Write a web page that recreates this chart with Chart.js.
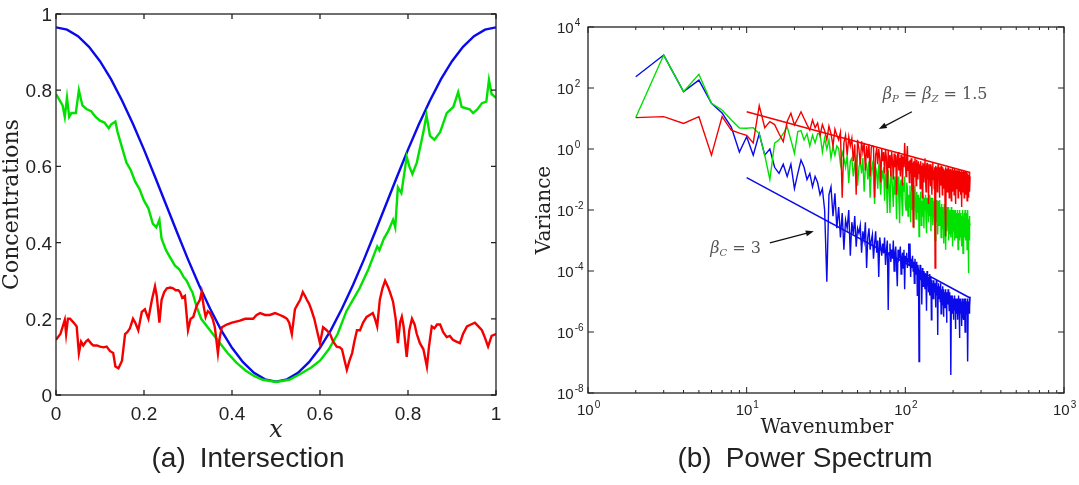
<!DOCTYPE html>
<html>
<head>
<meta charset="utf-8">
<script src="https://cdn.jsdelivr.net/npm/chart.js@4.4.0/dist/chart.umd.min.js"></script>
<style>
  body { margin: 0; background: #fff; }
  #wrap { position: relative; width: 1079px; height: 485px; }
  canvas { position: absolute; top: 0; }
</style>
</head>
<body>
<div id="wrap">
  <canvas id="intersection" width="530" height="485" style="left:0"></canvas>
  <canvas id="spectrum" width="549" height="485" style="left:530px"></canvas>
</div>
<script>
// ---- (a) Intersection: concentration profiles along x ----
const blueX = [0, 0.025, 0.05, 0.075, 0.1, 0.125, 0.15, 0.175, 0.2, 0.225, 0.25, 0.275, 0.3, 0.325, 0.35, 0.375, 0.4, 0.425, 0.45, 0.475, 0.5,
  0.525, 0.55, 0.575, 0.6, 0.625, 0.65, 0.675, 0.7, 0.725, 0.75, 0.775, 0.8, 0.825, 0.85, 0.875, 0.9, 0.925, 0.95, 0.975, 1];
const blueY = [0.965, 0.959, 0.942, 0.914, 0.876, 0.829, 0.773, 0.711, 0.644, 0.573, 0.5, 0.427, 0.356, 0.289, 0.227, 0.171, 0.124, 0.086, 0.058, 0.041, 0.035,
  0.041, 0.058, 0.086, 0.124, 0.171, 0.227, 0.289, 0.356, 0.427, 0.5, 0.573, 0.644, 0.711, 0.773, 0.829, 0.876, 0.914, 0.942, 0.959, 0.965];

const greenX = [0, 0.01, 0.015, 0.02, 0.025, 0.03, 0.035, 0.045, 0.052, 0.06, 0.07, 0.08, 0.09, 0.1, 0.11, 0.12, 0.125, 0.135, 0.14, 0.15,
  0.16, 0.17, 0.18, 0.19, 0.2, 0.21, 0.22, 0.228, 0.235, 0.24, 0.25, 0.26, 0.27, 0.28, 0.29, 0.297, 0.305, 0.31, 0.32, 0.33,
  0.35, 0.37, 0.39, 0.41, 0.43, 0.45, 0.47, 0.5, 0.53, 0.555, 0.58, 0.6, 0.62, 0.64, 0.66, 0.68, 0.69, 0.71, 0.73, 0.735,
  0.745, 0.755, 0.766, 0.771, 0.777, 0.785, 0.797, 0.803, 0.81, 0.82, 0.835, 0.842, 0.85, 0.86, 0.873, 0.888, 0.903, 0.914, 0.922, 0.94,
  0.948, 0.958, 0.968, 0.978, 0.984, 0.99, 1];
const greenY = [0.79, 0.77, 0.76, 0.73, 0.78, 0.73, 0.74, 0.74, 0.80, 0.76, 0.75, 0.745, 0.73, 0.72, 0.715, 0.70, 0.71, 0.718, 0.69, 0.65,
  0.61, 0.59, 0.56, 0.54, 0.51, 0.49, 0.45, 0.44, 0.46, 0.41, 0.38, 0.36, 0.34, 0.33, 0.31, 0.30, 0.28, 0.27, 0.23, 0.20,
  0.17, 0.14, 0.11, 0.085, 0.065, 0.05, 0.04, 0.034, 0.04, 0.055, 0.072, 0.09, 0.12, 0.16, 0.22, 0.26, 0.28, 0.33, 0.39, 0.38,
  0.41, 0.43, 0.46, 0.44, 0.545, 0.53, 0.625, 0.60, 0.58, 0.61, 0.69, 0.735, 0.68, 0.67, 0.69, 0.74, 0.756, 0.795, 0.756, 0.75,
  0.74, 0.75, 0.766, 0.77, 0.827, 0.79, 0.78];

const redX = [0, 0.01, 0.02, 0.023, 0.027, 0.032, 0.04, 0.047, 0.052, 0.057, 0.062, 0.068, 0.073, 0.08, 0.085, 0.093, 0.1, 0.108, 0.115, 0.123,
  0.13, 0.135, 0.142, 0.15, 0.157, 0.162, 0.168, 0.175, 0.18, 0.187, 0.195, 0.202, 0.21, 0.218, 0.225, 0.229, 0.235, 0.24, 0.246, 0.252,
  0.26, 0.266, 0.272, 0.278, 0.282, 0.287, 0.293, 0.3, 0.306, 0.312, 0.32, 0.327, 0.331, 0.336, 0.34, 0.345, 0.35, 0.356, 0.361, 0.368,
  0.372, 0.377, 0.388, 0.4, 0.418, 0.43, 0.448, 0.456, 0.464, 0.475, 0.486, 0.498, 0.509, 0.518, 0.525, 0.53, 0.536, 0.543, 0.55, 0.555,
  0.561, 0.566, 0.57, 0.575, 0.58, 0.587, 0.593, 0.6, 0.607, 0.615, 0.623, 0.63, 0.638, 0.645, 0.65, 0.656, 0.661, 0.667, 0.673, 0.678,
  0.684, 0.691, 0.698, 0.706, 0.713, 0.72, 0.725, 0.73, 0.736, 0.742, 0.748, 0.754, 0.759, 0.766, 0.772, 0.777, 0.782, 0.786, 0.79, 0.797,
  0.803, 0.809, 0.815, 0.82, 0.827, 0.835, 0.843, 0.848, 0.854, 0.86, 0.866, 0.873, 0.88, 0.888, 0.895, 0.902, 0.91, 0.918, 0.925, 0.934,
  0.943, 0.952, 0.96, 0.968, 0.975, 0.982, 0.99, 1];
const redY = [0.145, 0.16, 0.197, 0.16, 0.2, 0.2, 0.19, 0.18, 0.11, 0.14, 0.13, 0.14, 0.145, 0.135, 0.13, 0.13, 0.127, 0.125, 0.127, 0.115,
  0.11, 0.075, 0.07, 0.09, 0.16, 0.165, 0.175, 0.2, 0.19, 0.17, 0.218, 0.225, 0.2, 0.25, 0.285, 0.26, 0.19, 0.25, 0.27, 0.28,
  0.282, 0.28, 0.275, 0.275, 0.27, 0.255, 0.26, 0.17, 0.2, 0.205, 0.235, 0.25, 0.27, 0.23, 0.205, 0.22, 0.215, 0.2, 0.178, 0.11,
  0.15, 0.178, 0.185, 0.19, 0.195, 0.2, 0.2, 0.21, 0.215, 0.21, 0.21, 0.215, 0.21, 0.205, 0.2, 0.19, 0.16, 0.225, 0.24, 0.25,
  0.27, 0.26, 0.25, 0.24, 0.225, 0.2, 0.17, 0.136, 0.178, 0.17, 0.16, 0.14, 0.127, 0.125, 0.12, 0.09, 0.066, 0.09, 0.11, 0.14,
  0.17, 0.17, 0.19, 0.205, 0.21, 0.215, 0.2, 0.18, 0.25, 0.28, 0.30, 0.285, 0.27, 0.245, 0.2, 0.136, 0.19, 0.205, 0.18, 0.1,
  0.17, 0.2, 0.185, 0.16, 0.136, 0.12, 0.074, 0.13, 0.18, 0.175, 0.185, 0.185, 0.165, 0.152, 0.155, 0.145, 0.14, 0.136, 0.16, 0.18,
  0.185, 0.19, 0.18, 0.17, 0.15, 0.127, 0.155, 0.16];

const ticksA = [0, 0.2, 0.4, 0.6, 0.8, 1];
const tickLabelsA = ['0', '0.2', '0.4', '0.6', '0.8', '1'];

// ---- (b) Power spectrum: log10(variance) for wavenumbers 2..256 ----
const redLog = [
  1.03, 1.06, 0.84, 1.06, -0.2, 1.06, 0.62, 0.52, 0.45, 0.2,
  1.42, 0.7, 0.9, 0.8, 0.5, 0.24, 0.9, 1.17, 0.79, 1.0,
  1.22, 1.0, 0.8, 0.62, 0.95, 0.7, 0.85, 0.45, 0.8, 0.6,
  0.3, 0.75, 0.5, 0.1, 0.65, 0.45, 0.3, 0.55, -1.6, 0.2,
  0.45, -0.2, 0.4, 0.1, 0.35, -0.4, 0.15, -1.5, 0.3, 0.0,
  -0.5, 0.25, -0.1, 0.2, -0.7, 0.1, -0.3, 0.15, -0.9, 0.05,
  0.1, 0.08, -1.6, -0.2, 0.05, -0.5, 0.0, -0.3, -1.1, 0.02,
  -0.4, -0.1, -0.8, 0.0, -0.3, -1.3, -0.05, -0.6, -0.2, -0.9,
  -0.1, -0.4, -1.0, -0.15, -0.6, -0.2, -1.5, -0.3, -0.1, -0.7,
  -0.3, -0.9, -0.2, -0.5, -1.2, -0.25, -0.6, 0.2, -0.4, -0.9,
  -0.3, 0.1, -0.7, -0.4, -1.1, -0.35, -0.8, -0.3, -1.4, -0.45,
  -2.55, -0.4, -0.9, -0.3, -0.6, -1.2, -0.35, -0.7, -1.0, -0.4,
  -0.8, -0.5, -1.3, -0.4, -0.9, -0.55, -1.6, -0.45, -0.8, -1.1,
  -0.5, -0.3, -0.9, -1.4, -0.6, -0.45, -1.0, -0.7, -1.8, -0.5,
  -0.8, -0.6, -1.2, -0.5, -0.9, -1.5, -0.6, -0.45, -1.0, -0.7,
  -1.3, -0.6, -3.9, -0.55, -0.9, -1.1, -0.6, -1.4, -0.7, -0.5,
  -1.0, -0.8, -1.6, -0.6, -0.9, -1.2, -0.55, -1.0, -0.7, -1.5,
  -0.6, -0.9, -1.3, -0.65, -1.0, -0.7, -1.9, -0.6, -2.87, -0.8,
  -1.1, -0.65, -1.4, -0.9, -0.6, -1.2, -0.8, -1.6, -0.7, -1.0,
  -0.65, -1.3, -0.9, -1.7, -0.7, -1.0, -0.6, -1.4, -0.85, -1.1,
  -0.7, -1.5, -0.9, -0.65, -1.2, -0.8, -1.8, -0.7, -1.0, -0.75,
  -1.3, -0.9, -0.7, -1.6, -0.8, -1.1, -0.7, -1.4, -0.9, -1.2,
  -0.75, -1.5, -0.9, -1.1, -0.7, -1.9, -0.8, -1.2, -0.75, -1.4,
  -0.9, -1.0, -0.7, -1.6, -0.85, -1.2, -0.75, -1.5, -0.9, -1.1,
  -0.8, -1.4, -0.75, -1.7, -0.9, -1.0, -0.8, -1.3, -0.85, -1.6,
  -0.9, -1.1, -0.75, -1.4, -0.9
];
const greenLog = [
  1.03, 3.08, 1.88, 2.45, 1.5, 1.28, 0.95, 0.69, 0.68, 0.7,
  0.5, -0.2, -1.0, 0.19, 0.3, 0.5, 0.73, 0.3, -0.14, 0.57,
  0.6, 0.3, 0.5, 0.1, 0.45, 0.2, 0.5, 0.51, -0.1, 0.35,
  0.0, 0.3, -0.3, 0.08, -0.2, 0.1, 0.02, -0.5, -0.1, -0.3,
  -0.6, -0.2, -1.12, -0.4, -0.3, -0.9, -0.5, -0.3, -1.2, -0.6,
  -0.4, -0.8, -0.3, -1.4, -0.6, -0.5, -1.0, -0.4, -1.6, -0.7,
  -0.5, -0.9, -1.8, -0.6, -0.8, -1.3, -0.5, -1.02, -1.5, -0.7,
  -0.9, -0.6, -1.7, -0.8, -1.1, -2.1, -0.7, -1.2, -2.1, -0.9,
  -0.8, -1.3, -1.9, -0.9, -1.5, -1.0, -2.3, -1.1, -0.9, -1.6,
  -2.43, -1.2, -1.0, -1.7, -2.2, -1.1, -1.4, -0.9, -1.8, -2.0,
  -1.1, -1.3, -2.2, -1.5, -1.9, -1.2, -2.4, -1.4, -2.0, -1.3,
  -1.34, -2.6, -1.5, -1.2, -1.9, -2.3, -1.4, -1.7, -2.1, -1.5,
  -2.87, -1.6, -1.9, -1.4, -2.5, -1.7, -2.2, -1.5, -1.9, -2.6,
  -1.6, -2.0, -1.5, -2.3, -2.76, -1.6, -2.0, -1.7, -2.4, -1.5,
  -1.9, -2.2, -1.6, -2.7, -1.8, -2.1, -1.6, -2.5, -1.9, -2.2,
  -1.7, -2.6, -3.0, -1.8, -2.2, -1.67, -2.4, -1.9, -2.8, -1.7,
  -2.0, -2.5, -1.8, -1.67, -2.3, -1.9, -2.9, -1.8, -2.2, -2.6,
  -1.9, -2.4, -2.0, -3.1, -1.8, -2.2, -2.6, -1.9, -3.3, -2.1,
  -2.0, -2.7, -1.9, -2.4, -2.2, -3.0, -1.9, -2.5, -2.1, -2.8,
  -2.0, -2.3, -2.9, -1.9, -2.6, -2.2, -3.2, -2.0, -2.4, -2.7,
  -2.0, -2.5, -2.2, -3.0, -2.0, -2.6, -2.3, -2.9, -2.1, -2.4,
  -2.8, -2.0, -2.5, -3.3, -2.1, -2.4, -2.2, -3.0, -2.0, -2.6,
  -2.3, -2.9, -2.1, -2.5, -3.2, -2.2, -2.6, -2.0, -2.8, -3.42,
  -2.2, -2.5, -2.76, -2.1, -2.9, -2.4, -2.0, -3.0, -2.3, -2.6,
  -2.1, -2.8, -2.4, -3.3, -2.2, -2.5, -2.0, -2.9, -4.07, -2.3,
  -2.6, -2.2, -3.0, -2.4, -2.5
];
const blueLog = [
  2.37, 3.08, 1.88, 2.26, 1.5, 1.18, 0.72, -0.1, 0.4, -0.2,
  0.5, -0.2, 0.0, -0.6, -0.8, -0.5, -0.9, -0.5, -1.3, -0.8,
  -0.36, -0.6, -1.0, -0.8, -1.24, -0.9, -1.1, -1.5, -1.3, -2.0,
  -4.35, -1.5, -1.24, -2.2, -1.45, -2.6, -1.9, -2.9, -2.1, -3.3,
  -2.33, -2.6, -2.0, -3.5, -2.4, -2.8, -2.2, -3.2, -2.6, -2.76,
  -2.5, -3.4, -2.7, -3.0, -2.4, -3.9, -2.9, -2.6, -3.3, -3.0,
  -2.8, -3.6, -3.1, -2.7, -3.4, -3.0, -4.2, -2.9, -3.2, -3.5,
  -3.1, -3.42, -2.9, -3.8, -3.3, -3.0, -5.28, -3.4, -3.1, -3.7,
  -3.3, -3.6, -3.0, -4.0, -3.4, -3.2, -3.8, -4.5, -3.3, -3.6,
  -3.5, -3.2, -4.1, -3.6, -3.4, -3.9, -3.3, -4.6, -3.5, -3.7,
  -3.4, -3.9, -3.6, -3.1, -3.8, -3.1, -4.2, -3.6, -3.9, -3.5,
  -4.0, -3.7, -4.4, -3.6, -3.9, -4.1, -3.7, -4.8, -3.8, -4.0,
  -6.97, -4.2, -3.8, -4.3, -4.0, -5.1, -3.9, -4.2, -4.5, -4.0,
  -4.3, -4.6, -4.1, -4.4, -5.3, -4.0, -4.5, -4.2, -4.7, -4.3,
  -4.1, -4.8, -4.4, -4.2, -5.6, -4.3, -4.6, -4.4, -4.9, -4.3,
  -4.5, -4.7, -4.4, -5.2, -4.6, -4.3, -4.8, -4.5, -6.1, -4.6,
  -4.4, -4.9, -4.62, -4.5, -5.0, -4.4, -5.4, -4.7, -4.6, -5.1,
  -4.5, -4.8, -5.5, -4.6, -4.9, -4.7, -5.2, -4.6, -5.0, -4.8,
  -5.7, -4.7, -4.9, -5.1, -4.6, -5.0, -4.8, -5.3, -4.7, -5.0,
  -4.8, -5.2, -7.41, -4.9, -5.1, -4.8, -5.4, -5.0, -4.9, -5.6,
  -4.9, -5.1, -4.8, -5.3, -5.0, -5.9, -4.9, -5.2, -5.0, -5.4,
  -4.9, -5.1, -5.6, -5.0, -4.8, -5.3, -5.1, -6.2, -4.9, -5.2,
  -5.0, -5.4, -4.9, -5.3, -5.1, -5.8, -5.0, -5.2, -4.9, -5.5,
  -5.1, -5.0, -5.6, -4.9, -5.3, -5.1, -6.0, -5.0, -5.2, -4.9,
  -5.4, -5.1, -5.3, -5.0, -5.7, -4.9, -6.97, -5.2, -5.0, -5.3,
  -5.1, -5.4, -4.9, -5.2, -4.84
];
const waveNumbers = redLog.map((_, i) => i + 2);

// fitted power laws (slope -1.5 and -3)
const fitK = [10, 256];
const redFit = [16.6, 0.17];
const blueFit = [0.115, 1.3e-5];

const xTicksB = [1, 10, 100, 1000];
const xExpB = ['0', '1', '2', '3'];
const yTicksB = [1e-8, 1e-6, 1e-4, 1e-2, 1, 1e2, 1e4];
const yExpB = ['-8', '-6', '-4', '-2', '0', '2', '4'];

const BLUE = 'rgb(10,10,235)';
const GREEN = 'rgb(0,225,0)';
const RED = 'rgb(245,0,0)';
const SANS = '"Liberation Sans", Arial, sans-serif';
const SERIF = '"DejaVu Serif", serif';

const pts = (xs, ys) => xs.map((v, i) => ({ x: v, y: ys[i] }));
const logPts = (ks, ls) => ks.map((k, i) => ({ x: k, y: Math.pow(10, ls[i]) }));

function line(label, data, color, width) {
  return { label, data, borderColor: color, borderWidth: width, pointRadius: 0, tension: 0, fill: false };
}

// box with inward ticks, labels and captions for panel (a)
const frameA = {
  id: 'frameA',
  afterDraw(chart) {
    const { ctx, chartArea: a, scales: { x, y } } = chart;
    ctx.save();
    ctx.strokeStyle = '#222';
    ctx.fillStyle = '#222';
    ctx.lineWidth = 1.3;
    ctx.strokeRect(a.left, a.top, a.right - a.left, a.bottom - a.top);
    ctx.font = '19px ' + SANS;
    ctx.textAlign = 'center';
    ticksA.forEach((v, i) => {
      const px = x.getPixelForValue(v);
      ctx.beginPath();
      ctx.moveTo(px, a.bottom); ctx.lineTo(px, a.bottom - 5);
      ctx.moveTo(px, a.top); ctx.lineTo(px, a.top + 5);
      ctx.stroke();
      ctx.fillText(tickLabelsA[i], px, a.bottom + 25);
    });
    ctx.textAlign = 'right';
    ticksA.forEach((v, i) => {
      const py = y.getPixelForValue(v);
      ctx.beginPath();
      ctx.moveTo(a.left, py); ctx.lineTo(a.left + 5, py);
      ctx.moveTo(a.right, py); ctx.lineTo(a.right - 5, py);
      ctx.stroke();
      ctx.fillText(tickLabelsA[i], a.left - 4, py + 7);
    });
    ctx.textAlign = 'center';
    ctx.font = 'italic 24px ' + SERIF;
    ctx.fillText('x', (a.left + a.right) / 2, 437);
    ctx.save();
    ctx.translate(18, (a.top + a.bottom) / 2);
    ctx.rotate(-Math.PI / 2);
    ctx.font = '22px ' + SERIF;
    ctx.fillText('Concentrations', 0, 0);
    ctx.restore();
    ctx.font = '28px ' + SANS;
    ctx.fillText('(a)\u2002Intersection', 248, 467);
    ctx.restore();
  }
};

function drawPower(ctx, base, exp, x, y) {
  ctx.font = '15px ' + SANS;
  ctx.fillText(base, x, y);
  const w = ctx.measureText(base).width;
  ctx.font = '10px ' + SANS;
  ctx.fillText(exp, x + w + 1, y - 7);
}

function drawMath(ctx, parts, x, y) {
  parts.forEach(p => {
    ctx.font = p[1];
    ctx.fillText(p[0], x, y + p[2]);
    x += ctx.measureText(p[0]).width;
  });
}

function arrow(ctx, x0, y0, x1, y1) {
  const ang = Math.atan2(y1 - y0, x1 - x0);
  ctx.beginPath();
  ctx.moveTo(x0, y0); ctx.lineTo(x1 - 6 * Math.cos(ang), y1 - 6 * Math.sin(ang));
  ctx.stroke();
  ctx.beginPath();
  ctx.moveTo(x1, y1);
  ctx.lineTo(x1 - 8 * Math.cos(ang) + 3 * Math.sin(ang), y1 - 8 * Math.sin(ang) - 3 * Math.cos(ang));
  ctx.lineTo(x1 - 8 * Math.cos(ang) - 3 * Math.sin(ang), y1 - 8 * Math.sin(ang) + 3 * Math.cos(ang));
  ctx.closePath();
  ctx.fill();
}

// box, log ticks, labels, annotations for panel (b)
const frameB = {
  id: 'frameB',
  afterDraw(chart) {
    const { ctx, chartArea: a, scales: { x, y } } = chart;
    ctx.save();
    ctx.strokeStyle = '#222';
    ctx.fillStyle = '#222';
    ctx.lineWidth = 1.3;
    ctx.strokeRect(a.left, a.top, a.right - a.left, a.bottom - a.top);
    ctx.lineWidth = 1;
    // minor x ticks
    [1, 10, 100].forEach(d => {
      for (let m = 2; m <= 9; m++) {
        const px = x.getPixelForValue(d * m);
        ctx.beginPath();
        ctx.moveTo(px, a.bottom); ctx.lineTo(px, a.bottom - 3);
        ctx.moveTo(px, a.top); ctx.lineTo(px, a.top + 3);
        ctx.stroke();
      }
    });
    ctx.textAlign = 'left';
    xTicksB.forEach((v, i) => {
      const px = x.getPixelForValue(v);
      ctx.beginPath();
      ctx.moveTo(px, a.bottom); ctx.lineTo(px, a.bottom - 6);
      ctx.moveTo(px, a.top); ctx.lineTo(px, a.top + 6);
      ctx.stroke();
      drawPower(ctx, '10', xExpB[i], px - 11, a.bottom + 22);
    });
    yTicksB.forEach((v, i) => {
      const py = y.getPixelForValue(v);
      ctx.beginPath();
      ctx.moveTo(a.left, py); ctx.lineTo(a.left + 6, py);
      ctx.moveTo(a.right, py); ctx.lineTo(a.right - 6, py);
      ctx.stroke();
      drawPower(ctx, '10', yExpB[i], a.left - 31, py + 6);
    });
    // axis titles
    ctx.textAlign = 'center';
    ctx.font = '20px ' + SERIF;
    ctx.fillText('Wavenumber', 297, 433);
    ctx.save();
    ctx.translate(20, (a.top + a.bottom) / 2);
    ctx.rotate(-Math.PI / 2);
    ctx.fillText('Variance', 0, 0);
    ctx.restore();
    // caption
    ctx.font = '28px ' + SANS;
    ctx.fillText('(b)\u2002Power Spectrum', 275, 467);
    // slope annotations
    ctx.textAlign = 'left';
    ctx.fillStyle = '#555';
    ctx.strokeStyle = '#111';
    ctx.lineWidth = 1.3;
    const it = 'italic 16px ' + SERIF, sub = 'italic 10px ' + SERIF, rm = '16px ' + SERIF;
    drawMath(ctx, [['β', it, 0], ['P', sub, 3], [' = ', rm, 0], ['β', it, 0], ['Z', sub, 3], [' = 1.5', rm, 0]],
      x.getPixelForValue(72), y.getPixelForValue(43.6));
    drawMath(ctx, [['β', it, 0], ['C', sub, 3], [' = 3', rm, 0]],
      x.getPixelForValue(5.9), y.getPixelForValue(3.9e-4));
    ctx.fillStyle = '#111';
    arrow(ctx, x.getPixelForValue(110), y.getPixelForValue(16.6), x.getPixelForValue(68), y.getPixelForValue(4.5));
    arrow(ctx, x.getPixelForValue(14), y.getPixelForValue(8.3e-4), x.getPixelForValue(26.5), y.getPixelForValue(2.0e-3));
    ctx.restore();
  }
};

new Chart(document.getElementById('intersection'), {
  type: 'line',
  data: {
    datasets: [
      line('red', pts(redX, redY), RED, 2.4),
      line('green', pts(greenX, greenY), GREEN, 2.4),
      line('blue', pts(blueX, blueY), BLUE, 2.4)
    ]
  },
  options: {
    responsive: false,
    animation: false,
    devicePixelRatio: 1,
    layout: { padding: { left: 56, right: 34, top: 14, bottom: 90 } },
    plugins: { legend: { display: false }, tooltip: { enabled: false } },
    scales: {
      x: { type: 'linear', min: 0, max: 1, display: false },
      y: { type: 'linear', min: 0, max: 1, display: false }
    }
  },
  plugins: [frameA]
});

new Chart(document.getElementById('spectrum'), {
  type: 'line',
  data: {
    datasets: [
      line('red fit', pts(fitK, redFit), RED, 1.5),
      line('red', logPts(waveNumbers, redLog), RED, 1.4),
      line('green', logPts(waveNumbers, greenLog), GREEN, 1.4),
      line('blue fit', pts(fitK, blueFit), BLUE, 1.5),
      line('blue', logPts(waveNumbers, blueLog), BLUE, 1.4)
    ]
  },
  options: {
    responsive: false,
    animation: false,
    devicePixelRatio: 1,
    layout: { padding: { left: 58, right: 15, top: 27, bottom: 92 } },
    plugins: { legend: { display: false }, tooltip: { enabled: false } },
    scales: {
      x: { type: 'logarithmic', min: 1, max: 1000, display: false },
      y: { type: 'logarithmic', min: 1e-8, max: 1e4, display: false }
    }
  },
  plugins: [frameB]
});
</script>
</body>
</html>
